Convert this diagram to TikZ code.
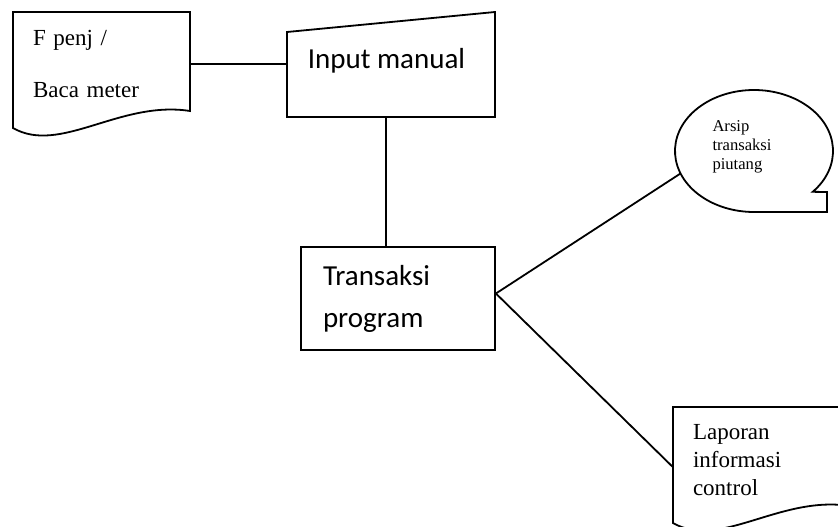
\documentclass[tikz,border=0pt]{standalone}
\usepackage{fontspec}
\setmainfont{Liberation Serif}
\newfontfamily\calibri{Carlito}
\usetikzlibrary{shapes.geometric}

\tikzset{
    garis/.style={line width=1.8pt},
    teks/.style={font=\fontsize{23}{28}\selectfont, align=left, text width=137pt, inner xsep=20pt, inner ysep=0pt},
    proses/.style={draw, line width=1.8pt, font=\calibri\fontsize{29}{42}\selectfont, align=left, text width=150pt, inner xsep=22pt, minimum height=103pt}
}

\begin{document}
\begin{tikzpicture}[x=1pt, y=1pt]
                \clip (0,0) rectangle (838,-527);

                \node[teks] (fpenj) at (101.5,-64) {F penj /\\[24pt]Baca meter};
                \draw[garis] (13,-12) -- (190,-12) -- (190,-111) .. controls (120,-100) and (60,-155) .. (13,-128) -- cycle;

                \node[minimum width=208pt, minimum height=85pt] (input) at (391,-74.5) {};
                \node[font=\calibri\fontsize{29}{35}\selectfont] (inputteks) at (386.5,-61) {Input manual};
                \draw[garis] (287,-32) -- (495,-12) -- (495,-117) -- (287,-117) -- cycle;

                \node[proses] (trans) at (398,-298.5) {Transaksi\\program};

                \node[ellipse, minimum width=158pt, minimum height=122pt, inner sep=0pt, outer sep=0pt] (arsip) at (754,-151) {};
                \node[font=\fontsize{16.6}{19}\selectfont, align=left] (arsipteks) at (742,-147) {Arsip\\transaksi\\piutang};
                \draw[garis] (754,-151) ++(-42:79 and 61) arc[start angle=-42, end angle=270, x radius=79, y radius=61] -- (827,-212) -- (827,-192) -- cycle;

                \node[teks] (lapor) at (761.5,-460) {Laporan\\informasi\\control};
                \draw[garis] (673,-407) -- (850,-407) -- (850,-506) .. controls (780,-495) and (720,-550) .. (673,-523) -- cycle;

                \draw[garis] (fpenj.east) -- (fpenj.east -| input.west);
                \draw[garis] ([xshift=-5pt]input.south) -- ([xshift=-5pt]input.south |- trans.north);
                \draw[garis] ([yshift=5pt]trans.east) -- (arsip.197);
                \draw[garis] ([yshift=5pt]trans.east) -- ([yshift=-7pt]lapor.west);
            \end{tikzpicture}
\end{document}
